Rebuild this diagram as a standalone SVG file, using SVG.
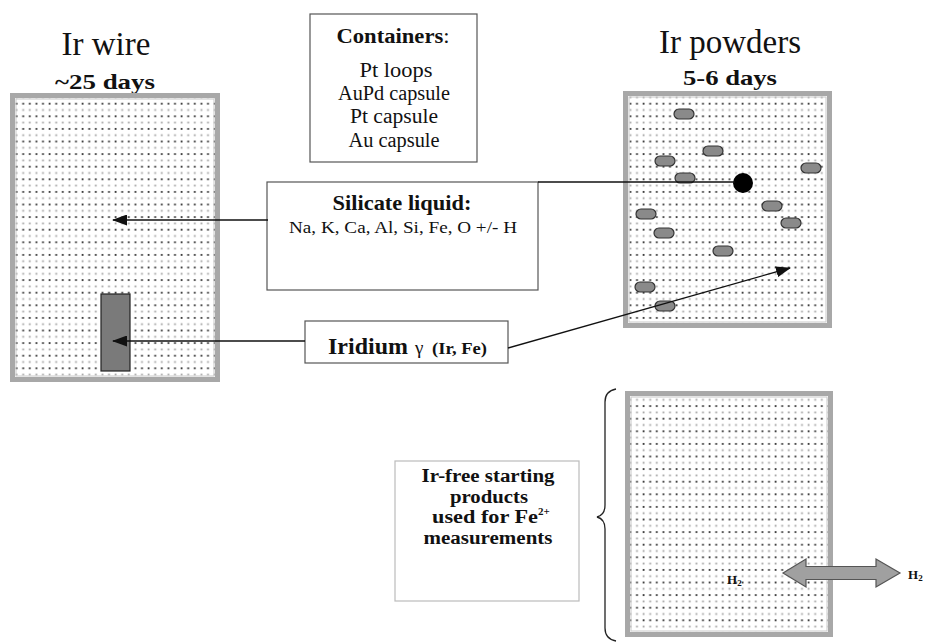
<svg xmlns="http://www.w3.org/2000/svg" width="929" height="642" viewBox="0 0 929 642">
<style>
text{font-family:"Liberation Serif","Times New Roman",serif;fill:#111}
.b{font-weight:bold}
.sample{fill:url(#dots);stroke:#a8a8a8;stroke-width:5}
.inner{fill:none;stroke:#c8c8c8;stroke-width:1}
.box{fill:#fff;stroke:#555;stroke-width:1.2}
.conn{stroke:#111;stroke-width:1.3;fill:none}
.grain{fill:#8a8a8a;stroke:#333;stroke-width:1.2}
</style>
<defs>
<pattern id="dots" width="6.6" height="12.6" patternUnits="userSpaceOnUse">
<rect x="2.5" y="2" width="1.8" height="1.8" fill="#333"/>
<rect x="2.5" y="8.3" width="1.8" height="1.8" fill="#a4a4a4"/>
</pattern>
<marker id="ah" markerUnits="userSpaceOnUse" markerWidth="15" markerHeight="11" refX="14" refY="5.5" orient="auto">
<path d="M0,0 L15,5.5 L0,11 z" fill="#111"/>
</marker>
</defs>

<g id="ir-wire">
<text x="106" y="55" font-size="33" text-anchor="middle">Ir wire</text>
<text class="b" x="105" y="89" font-size="21" text-anchor="middle" textLength="100" lengthAdjust="spacingAndGlyphs">~25 days</text>
<rect class="sample" x="12.5" y="95.5" width="205" height="284"/>
<rect class="inner" x="16" y="99" width="198" height="277"/>
<rect x="101" y="294" width="29" height="77" fill="#7a7a7a" stroke="#222" stroke-width="1.2"/>
</g>

<g id="containers">
<rect class="box" x="310" y="14" width="167" height="148"/>
<text x="393" y="43" font-size="20" text-anchor="middle" textLength="113" lengthAdjust="spacingAndGlyphs"><tspan class="b">Containers</tspan>:</text>
<text x="396" y="77" font-size="20" text-anchor="middle" textLength="73" lengthAdjust="spacingAndGlyphs">Pt loops</text>
<text x="394" y="100" font-size="20" text-anchor="middle" textLength="112" lengthAdjust="spacingAndGlyphs">AuPd capsule</text>
<text x="394" y="123" font-size="20" text-anchor="middle" textLength="88" lengthAdjust="spacingAndGlyphs">Pt capsule</text>
<text x="394" y="147" font-size="20" text-anchor="middle" textLength="91" lengthAdjust="spacingAndGlyphs">Au capsule</text>
</g>

<g id="silicate">
<rect class="box" x="267" y="182" width="271" height="108"/>
<text class="b" x="402" y="210" font-size="21" text-anchor="middle" textLength="139" lengthAdjust="spacingAndGlyphs">Silicate liquid:</text>
<text x="403" y="233" font-size="17" text-anchor="middle" textLength="228" lengthAdjust="spacingAndGlyphs">Na, K, Ca, Al, Si, Fe, O +/- H</text>
</g>

<g id="iridium">
<rect class="box" x="305" y="321" width="203" height="42"/>
<text class="b" x="328" y="354" font-size="23" textLength="80" lengthAdjust="spacingAndGlyphs">Iridium</text>
<text x="415" y="354" font-size="19">γ</text>
<text class="b" x="432" y="354" font-size="16" textLength="55" lengthAdjust="spacingAndGlyphs">(Ir, Fe)</text>
</g>

<g id="ir-powders">
<text x="730" y="53" font-size="33" text-anchor="middle">Ir powders</text>
<text class="b" x="730" y="85" font-size="21" text-anchor="middle" textLength="94" lengthAdjust="spacingAndGlyphs">5-6 days</text>
<rect class="sample" x="625.5" y="93.5" width="204" height="232"/>
<rect class="inner" x="629" y="97" width="197" height="225"/>
<rect class="grain" x="674" y="109" width="20" height="10" rx="5"/>
<rect class="grain" x="703" y="146" width="20" height="10" rx="5"/>
<rect class="grain" x="655" y="156" width="20" height="10" rx="5"/>
<rect class="grain" x="675" y="173" width="20" height="10" rx="5"/>
<rect class="grain" x="801" y="163" width="20" height="10" rx="5"/>
<rect class="grain" x="762" y="201" width="20" height="10" rx="5"/>
<rect class="grain" x="781" y="218" width="20" height="10" rx="5"/>
<rect class="grain" x="636" y="209" width="20" height="10" rx="5"/>
<rect class="grain" x="654" y="228" width="20" height="10" rx="5"/>
<rect class="grain" x="713" y="246" width="20" height="10" rx="5"/>
<rect class="grain" x="635" y="282" width="20" height="10" rx="5"/>
<rect class="grain" x="655" y="301" width="20" height="10" rx="5"/>
<circle cx="743" cy="183" r="10" fill="#000"/>
</g>

<g id="ir-free-sample">
<rect class="sample" x="627.5" y="393.5" width="203" height="241"/>
<rect class="inner" x="631" y="397" width="196" height="234"/>
<text class="b" x="727" y="584" font-size="13">H<tspan font-size="9" dy="2">2</tspan></text>
<polygon points="783,573 806,559 806,566.5 876,566.5 876,559 900,573 876,587 876,579.5 806,579.5 806,587" fill="#a0a0a0" stroke="#555" stroke-width="1.2"/>
<text class="b" x="908" y="579" font-size="13">H<tspan font-size="9" dy="2">2</tspan></text>
</g>

<g id="ir-free-label">
<rect x="395" y="461" width="184" height="140" fill="#fff" stroke="#bbb" stroke-width="1.2"/>
<text class="b" x="488" y="482" font-size="18" text-anchor="middle" textLength="133" lengthAdjust="spacingAndGlyphs">Ir-free starting</text>
<text class="b" x="489" y="502.5" font-size="18" text-anchor="middle" textLength="78" lengthAdjust="spacingAndGlyphs">products</text>
<text class="b" x="432" y="523" font-size="18"><tspan textLength="106" lengthAdjust="spacingAndGlyphs">used for Fe</tspan><tspan font-size="11" dy="-8">2+</tspan></text>
<text class="b" x="488" y="543.5" font-size="18" text-anchor="middle" textLength="129" lengthAdjust="spacingAndGlyphs">measurements</text>
</g>

<g id="brace">
<path d="M616,389 Q605,391 605,402 L605,505 Q605,515 597,517 Q605,519 605,529 L605,628 Q605,639 616,641" fill="none" stroke="#222" stroke-width="1.3"/>
</g>

<g id="connectors">
<line class="conn" x1="268" y1="220" x2="113" y2="220" marker-end="url(#ah)"/>
<line class="conn" x1="305" y1="341" x2="113" y2="341" marker-end="url(#ah)"/>
<line class="conn" x1="508" y1="348" x2="790" y2="268" marker-end="url(#ah)"/>
<line class="conn" x1="538" y1="182" x2="735" y2="182"/>
</g>
</svg>
